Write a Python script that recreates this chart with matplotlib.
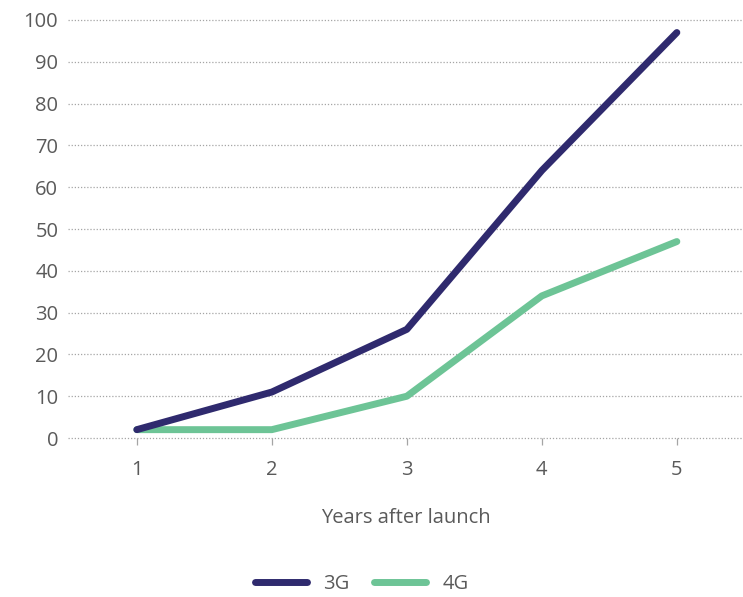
import matplotlib.pyplot as plt

years = [1, 2, 3, 4, 5]
subs_3g = [2, 11, 26, 64, 97]
subs_4g = [2, 2, 10, 34, 47]
yticks = [0, 10, 20, 30, 40, 50, 60, 70, 80, 90, 100]

col_3g = '#2f2a6e'
col_4g = '#6dc496'
txt = '#5a5a5a'
plt.rcParams['font.family'] = ['Open Sans', 'DejaVu Sans']

fig = plt.figure(figsize=(7.43, 5.97), dpi=100)
ax = fig.add_axes([0.0915, 0.2663, 0.9085, 0.7002])

for y in yticks:
    ax.axhline(y, color='#a5a5a5', linestyle=(0, (1, 1.5)), linewidth=0.9, zorder=1, clip_on=False)

ax.plot(years, subs_3g, color=col_3g, linewidth=5, solid_capstyle='round', zorder=3, label='3G')
ax.plot(years, subs_4g, color=col_4g, linewidth=5, solid_capstyle='round', zorder=2, label='4G')

ax.set_xlim(0.49, 5.49)
ax.set_ylim(0, 100)
ax.set_xticks(years)
ax.set_yticks(yticks)
for s in ax.spines.values():
    s.set_visible(False)
ax.tick_params(axis='y', length=0, pad=7, labelsize=14.5, labelcolor=txt)
ax.tick_params(axis='x', length=5, width=0.9, color='#a5a5a5', direction='out', pad=11,
               labelsize=14.5, labelcolor=txt)
for t in ax.xaxis.get_ticklines():
    t.set_linestyle(':')

ax.set_xlabel('Years after launch', fontsize=14.5, color=txt, labelpad=20)

leg = fig.legend(loc='center', bbox_to_anchor=(0.487, 0.022), ncol=2, frameon=False,
                 fontsize=14.5, handlelength=2.6, columnspacing=1.2, handletextpad=0.8)
for t in leg.get_texts():
    t.set_color(txt)

fig.savefig('out.png', dpi=100)
